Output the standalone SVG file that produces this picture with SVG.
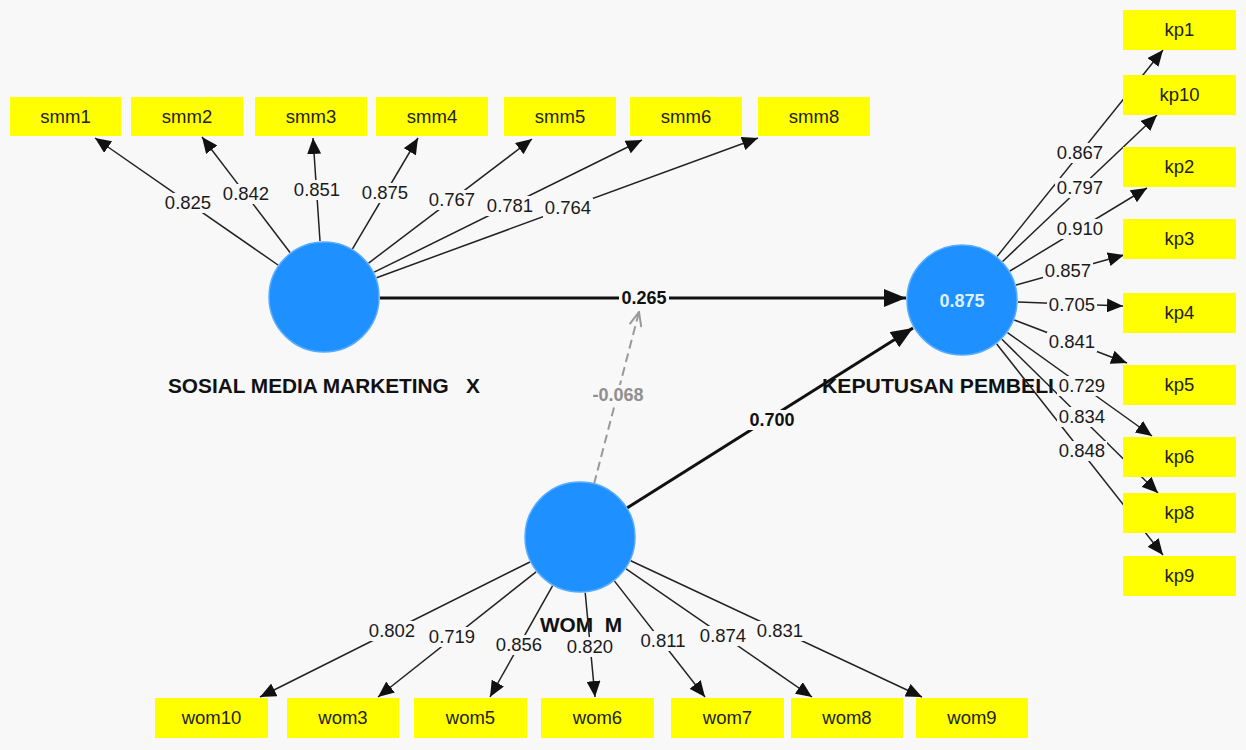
<svg xmlns="http://www.w3.org/2000/svg" width="1246" height="750" viewBox="0 0 1246 750">
<style>
.bg{fill:#f8f8f8}
.box{fill:#ffff00}
.bt{font-family:"Liberation Sans",Arial,sans-serif;font-size:18.5px;fill:#222;text-anchor:middle}
.lv{fill:#1e90ff;stroke:#56acff;stroke-width:1.5}
.nm{font-family:"Liberation Sans",Arial,sans-serif;font-size:20px;font-weight:bold;fill:#111}
.ln{stroke:#222;stroke-width:1.5;fill:none;marker-end:url(#ah)}
.sl{stroke:#111;stroke-width:3;fill:none;marker-end:url(#ahb)}
.dl{stroke:#999;stroke-width:2;stroke-dasharray:9 5;fill:none;marker-end:url(#ahg)}
.lb{font-family:"Liberation Sans",Arial,sans-serif;font-size:18.5px;fill:#1a1a1a;text-anchor:middle}
.sb{font-family:"Liberation Sans",Arial,sans-serif;font-size:18px;font-weight:bold;fill:#111;text-anchor:middle}
.lr{fill:#f8f8f8}
</style>
<defs>
<marker id="ah" markerUnits="userSpaceOnUse" markerWidth="16" markerHeight="14" viewBox="0 0 16 14" refX="16" refY="7" orient="auto"><path d="M0,0 L16,7 L0,14 z" fill="#111"/></marker>
<marker id="ahb" markerUnits="userSpaceOnUse" markerWidth="22" markerHeight="18" viewBox="0 0 22 18" refX="22" refY="9" orient="auto"><path d="M0,0 L22,9 L0,18 z" fill="#111"/></marker>
<marker id="ahg" markerUnits="userSpaceOnUse" markerWidth="16" markerHeight="14" viewBox="0 0 16 14" refX="15" refY="7" orient="auto"><path d="M1,1 L15,7 L1,13" fill="none" stroke="#999" stroke-width="2"/></marker>
</defs>
<rect class="bg" x="0" y="0" width="1246" height="750"/>

<text class="nm" x="168" y="393" textLength="312" lengthAdjust="spacingAndGlyphs" xml:space="preserve">SOSIAL MEDIA MARKETING   X</text>
<text class="nm" x="822" y="393" textLength="232" lengthAdjust="spacingAndGlyphs">KEPUTUSAN PEMBELI</text>
<text class="nm" x="540" y="632" textLength="82" lengthAdjust="spacingAndGlyphs" xml:space="preserve">WOM  M</text>

<g id="connectors">
<line class="ln" x1="278" y1="265" x2="95" y2="138"/>
<line class="ln" x1="290" y1="252.5" x2="202" y2="137"/>
<line class="ln" x1="320" y1="241" x2="313" y2="138"/>
<line class="ln" x1="352.5" y1="248.8" x2="418" y2="138"/>
<line class="ln" x1="368.6" y1="263.1" x2="532" y2="139"/>
<line class="ln" x1="374.2" y1="272.2" x2="642" y2="140"/>
<line class="ln" x1="376.6" y1="277.7" x2="758" y2="138"/>

<line class="ln" x1="997.1" y1="256.4" x2="1163" y2="50"/>
<line class="ln" x1="1002.6" y1="261.5" x2="1157" y2="115"/>
<line class="ln" x1="1009.9" y1="271" x2="1147" y2="188"/>
<line class="ln" x1="1016" y1="285" x2="1124" y2="255"/>
<line class="ln" x1="1018" y1="302" x2="1123" y2="306"/>
<line class="ln" x1="1014.3" y1="320" x2="1127" y2="363"/>
<line class="ln" x1="1007.5" y1="332.6" x2="1152" y2="436"/>
<line class="ln" x1="1001.9" y1="339.3" x2="1158" y2="493"/>
<line class="ln" x1="996.7" y1="344" x2="1163" y2="555"/>

<line class="ln" x1="529.9" y1="562" x2="260" y2="697"/>
<line class="ln" x1="536.1" y1="571.8" x2="378" y2="697"/>
<line class="ln" x1="552.5" y1="585.8" x2="490" y2="697"/>
<line class="ln" x1="585.2" y1="592.8" x2="595" y2="697"/>
<line class="ln" x1="614.5" y1="581.1" x2="705" y2="697"/>
<line class="ln" x1="626.1" y1="568.8" x2="812" y2="697"/>
<line class="ln" x1="630.7" y1="560.7" x2="922" y2="697"/>

<line class="sl" x1="380" y1="298" x2="906" y2="298"/>
<line class="sl" x1="627" y1="508" x2="913" y2="328"/>
<line class="dl" x1="594" y1="484" x2="639" y2="312"/>

<g id="labels">
<rect class="lr" x="163" y="193" width="50" height="20"/><text class="lb" x="188" y="209">0.825</text>
<rect class="lr" x="221" y="184" width="50" height="20"/><text class="lb" x="246" y="200">0.842</text>
<rect class="lr" x="292" y="180" width="50" height="20"/><text class="lb" x="317" y="196">0.851</text>
<rect class="lr" x="360" y="183" width="50" height="20"/><text class="lb" x="385" y="199">0.875</text>
<rect class="lr" x="427" y="190" width="50" height="20"/><text class="lb" x="452" y="206">0.767</text>
<rect class="lr" x="485" y="196" width="50" height="20"/><text class="lb" x="510" y="212">0.781</text>
<rect class="lr" x="543" y="198" width="50" height="20"/><text class="lb" x="568" y="214">0.764</text>

<rect class="lr" x="1055" y="143" width="50" height="20"/><text class="lb" x="1080" y="159">0.867</text>
<rect class="lr" x="1055" y="178" width="50" height="20"/><text class="lb" x="1080" y="194">0.797</text>
<rect class="lr" x="1055" y="219" width="50" height="20"/><text class="lb" x="1080" y="235">0.910</text>
<rect class="lr" x="1043" y="261" width="50" height="20"/><text class="lb" x="1068" y="277">0.857</text>
<rect class="lr" x="1047" y="295" width="50" height="20"/><text class="lb" x="1072" y="311">0.705</text>
<rect class="lr" x="1047" y="332" width="50" height="20"/><text class="lb" x="1072" y="348">0.841</text>
<rect class="lr" x="1057" y="376" width="50" height="20"/><text class="lb" x="1082" y="392">0.729</text>
<rect class="lr" x="1057" y="407" width="50" height="20"/><text class="lb" x="1082" y="423">0.834</text>
<rect class="lr" x="1057" y="441" width="50" height="20"/><text class="lb" x="1082" y="457">0.848</text>

<rect class="lr" x="367" y="621" width="50" height="20"/><text class="lb" x="392" y="637">0.802</text>
<rect class="lr" x="427" y="627" width="50" height="20"/><text class="lb" x="452" y="643">0.719</text>
<rect class="lr" x="494" y="635" width="50" height="20"/><text class="lb" x="519" y="651">0.856</text>
<rect class="lr" x="565" y="637" width="50" height="20"/><text class="lb" x="590" y="653">0.820</text>
<rect class="lr" x="638" y="631" width="50" height="20"/><text class="lb" x="663" y="647">0.811</text>
<rect class="lr" x="698" y="626" width="50" height="20"/><text class="lb" x="723" y="642">0.874</text>
<rect class="lr" x="755" y="621" width="50" height="20"/><text class="lb" x="780" y="637">0.831</text>

<rect class="lr" x="619" y="288" width="50" height="20"/><text class="sb" x="644" y="304">0.265</text>
<rect class="lr" x="747" y="410" width="50" height="20"/><text class="sb" x="772" y="426">0.700</text>
<rect class="lr" x="589" y="385" width="58" height="20"/><text class="sb" x="618" y="401" style="fill:#8f8f8f">-0.068</text>
</g>
</g>

<g id="smm"><circle class="lv" cx="324" cy="297" r="55"/></g>
<g id="kp"><circle class="lv" cx="962" cy="300" r="55"/><text class="sb" x="962" y="307" style="fill:#dff0ff">0.875</text></g>
<g id="wom"><circle class="lv" cx="580" cy="537" r="55"/></g>

<g id="smm1"><rect class="box" x="10" y="97" width="111" height="39"/><text class="bt" x="65.5" y="123">smm1</text></g>
<g id="smm2"><rect class="box" x="131" y="97" width="112" height="39"/><text class="bt" x="187" y="123">smm2</text></g>
<g id="smm3"><rect class="box" x="255" y="97" width="112" height="39"/><text class="bt" x="311" y="123">smm3</text></g>
<g id="smm4"><rect class="box" x="376" y="97" width="112" height="39"/><text class="bt" x="432" y="123">smm4</text></g>
<g id="smm5"><rect class="box" x="504" y="97" width="112" height="39"/><text class="bt" x="560" y="123">smm5</text></g>
<g id="smm6"><rect class="box" x="630" y="97" width="112" height="39"/><text class="bt" x="686" y="123">smm6</text></g>
<g id="smm8"><rect class="box" x="758" y="97" width="112" height="39"/><text class="bt" x="814" y="123">smm8</text></g>

<g id="kp1"><rect class="box" x="1123" y="10" width="113" height="40"/><text class="bt" x="1179.5" y="36">kp1</text></g>
<g id="kp10"><rect class="box" x="1123" y="75" width="113" height="40"/><text class="bt" x="1179.5" y="101">kp10</text></g>
<g id="kp2"><rect class="box" x="1123" y="147" width="113" height="40"/><text class="bt" x="1179.5" y="173">kp2</text></g>
<g id="kp3"><rect class="box" x="1123" y="219" width="113" height="40"/><text class="bt" x="1179.5" y="245">kp3</text></g>
<g id="kp4"><rect class="box" x="1123" y="293" width="113" height="40"/><text class="bt" x="1179.5" y="319">kp4</text></g>
<g id="kp5"><rect class="box" x="1123" y="365" width="113" height="40"/><text class="bt" x="1179.5" y="391">kp5</text></g>
<g id="kp6"><rect class="box" x="1123" y="437" width="113" height="40"/><text class="bt" x="1179.5" y="463">kp6</text></g>
<g id="kp8"><rect class="box" x="1123" y="493" width="113" height="40"/><text class="bt" x="1179.5" y="519">kp8</text></g>
<g id="kp9"><rect class="box" x="1123" y="556" width="113" height="40"/><text class="bt" x="1179.5" y="582">kp9</text></g>

<g id="wom10"><rect class="box" x="155" y="698" width="113" height="40"/><text class="bt" x="211.5" y="724">wom10</text></g>
<g id="wom3"><rect class="box" x="287" y="698" width="112" height="40"/><text class="bt" x="343" y="724">wom3</text></g>
<g id="wom5"><rect class="box" x="414" y="698" width="113" height="40"/><text class="bt" x="470.5" y="724">wom5</text></g>
<g id="wom6"><rect class="box" x="541" y="698" width="113" height="40"/><text class="bt" x="597.5" y="724">wom6</text></g>
<g id="wom7"><rect class="box" x="671" y="698" width="113" height="40"/><text class="bt" x="727.5" y="724">wom7</text></g>
<g id="wom8"><rect class="box" x="791" y="698" width="112" height="40"/><text class="bt" x="847" y="724">wom8</text></g>
<g id="wom9"><rect class="box" x="916" y="698" width="112" height="40"/><text class="bt" x="972" y="724">wom9</text></g>
</svg>
